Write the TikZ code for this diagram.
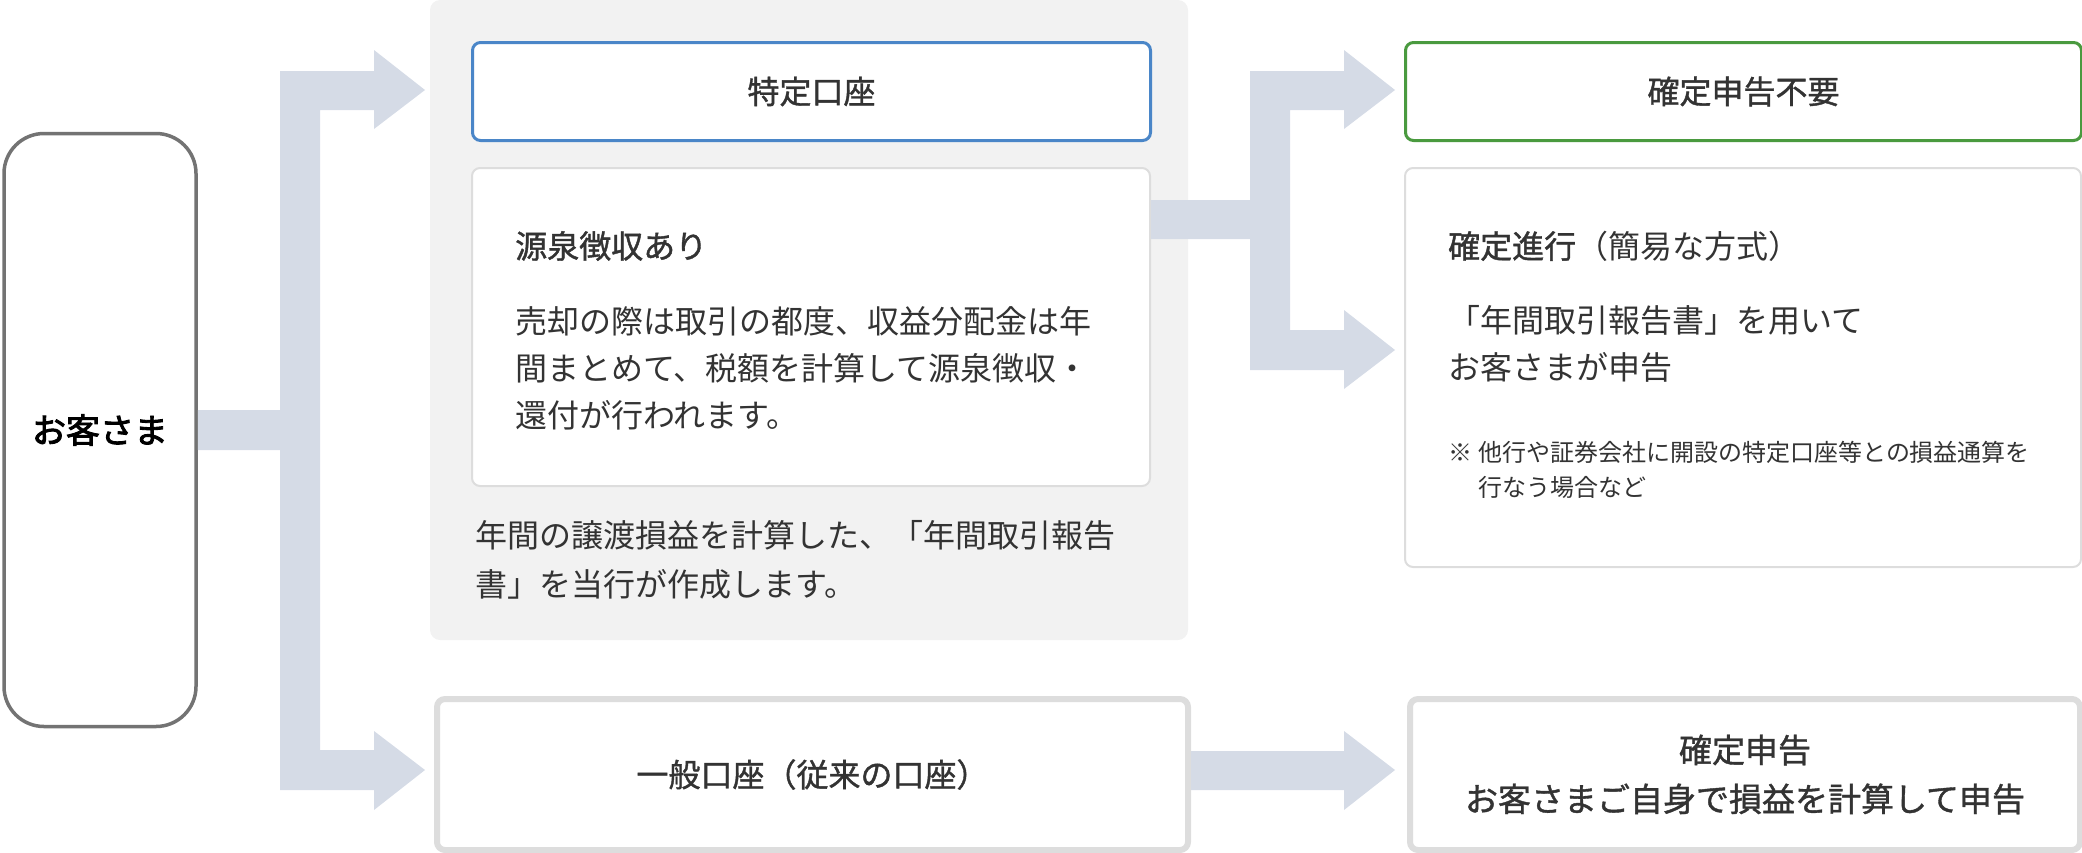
\documentclass[tikz,border=0pt]{standalone}
\usepackage{fontspec}
\newfontfamily\jp{Noto Sans CJK JP}
\newfontfamily\jpm{Noto Sans CJK JP}[FakeBold=1.2]
\newfontfamily\jpb{Noto Sans CJK JP}[FakeBold=2.6]
\definecolor{arrowc}{HTML}{D5DBE6}
\definecolor{panelc}{HTML}{F2F2F2}
\definecolor{bluec}{HTML}{4A86C8}
\definecolor{greenc}{HTML}{4A9A3F}
\definecolor{lightc}{HTML}{DDDDDD}
\definecolor{txt}{HTML}{333333}
\definecolor{custc}{HTML}{737373}
\begin{document}
\begin{tikzpicture}[x=1pt,y=-1pt,
  box/.style={draw, fill=white, rounded corners=8pt, inner sep=0pt, anchor=north west, text=txt},
  big/.style={font=\jp\fontsize{32pt}{47pt}\selectfont},
  bigm/.style={font=\jpm\fontsize{32pt}{47pt}\selectfont},
  tx/.style={inner sep=0pt, text=txt, big, anchor=west, align=left},
  small/.style={font=\jp\fontsize{24pt}{35pt}\selectfont}]
\useasboundingbox (0,0) rectangle (2082,852);
% gray panel
\fill[panelc, rounded corners=10pt] (430,0) rectangle (1188,640);
% customer box
\node[draw=custc, line width=3.5pt, fill=white, rounded corners=40pt, minimum width=192pt, minimum height=593pt, inner sep=0pt,
  font=\jpb\fontsize{34pt}{40pt}\selectfont, text=black] (cust) at (100,430) {お客さま};
% boxes
\node[box, draw=bluec, line width=3pt, minimum width=678pt, minimum height=98pt, bigm] (tok) at (471,41) {特定口座};
\node[box, draw=lightc, line width=2pt, minimum width=678pt, minimum height=318pt] (w1) at (471,167) {};
\node[box, draw=lightc, line width=6pt, minimum width=751pt, minimum height=151pt, bigm] (gen) at (434,696) {一般口座（従来の口座）};
\node[box, draw=greenc, line width=3pt, minimum width=676pt, minimum height=98pt, bigm] (fuyo) at (1404,41) {確定申告不要};
\node[box, draw=lightc, line width=2pt, minimum width=676pt, minimum height=399pt] (w2) at (1404,167) {};
\node[box, draw=lightc, line width=6pt, minimum width=670pt, minimum height=151pt, align=center,
  font=\jpm\fontsize{33pt}{49pt}\selectfont] (shin) at (1407,696) {確定申告\\お客さまご自身で損益を計算して申告};
% arrows
\fill[arrowc] (cust.east |- 0,410) -- (280,410) -- (280,71) -- (374,71) -- (374,50) -- (425,90) -- (374,129) -- (374,110)
  -- (320,110) -- (320,750) -- (374,750) -- (374,731) -- (425,770) -- (374,810) -- (374,790) -- (280,790) -- (280,450)
  -- (cust.east |- 0,450) -- cycle;
\fill[arrowc] (w1.east |- 0,200) -- (1250,200) -- (1250,71) -- (1344,71) -- (1344,50) -- (1395,90) -- (1344,129) -- (1344,110)
  -- (1290,110) -- (1290,330) -- (1344,330) -- (1344,310) -- (1395,350) -- (1344,389) -- (1344,370) -- (1250,370) -- (1250,239)
  -- (w1.east |- 0,239) -- cycle;
\fill[arrowc] (gen.east |- 0,751) -- (1344,751) -- (1344,731) -- (1395,770) -- (1344,810) -- (1344,790) -- (gen.east |- 0,790) -- cycle;
% texts in left white box
\node[tx, bigm] (g1) at (515,246) {源泉徴収あり};
\node[tx] (g2) at (515,368) {売却の際は取引の都度、収益分配金は年\\間まとめて、税額を計算して源泉徴収・\\還付が行われます。};
\node[tx, font=\jp\fontsize{32pt}{49pt}\selectfont] (g3) at (475,560) {年間の譲渡損益を計算した、「年間取引報告\\書」を当行が作成します。};
% texts in right white box
\node[tx] (k1) at (1448,246) {{\jpm 確定進行}（簡易な方式）};
\node[tx] (k2) at (1448,344) {「年間取引報告書」を用いて\\お客さまが申告};
\node[tx, small] (k3) at (1448,453) {※};
\node[tx, small] (k4) at (1478,470) {他行や証券会社に開設の特定口座等との損益通算を\\行なう場合など};
\end{tikzpicture}
\end{document}
